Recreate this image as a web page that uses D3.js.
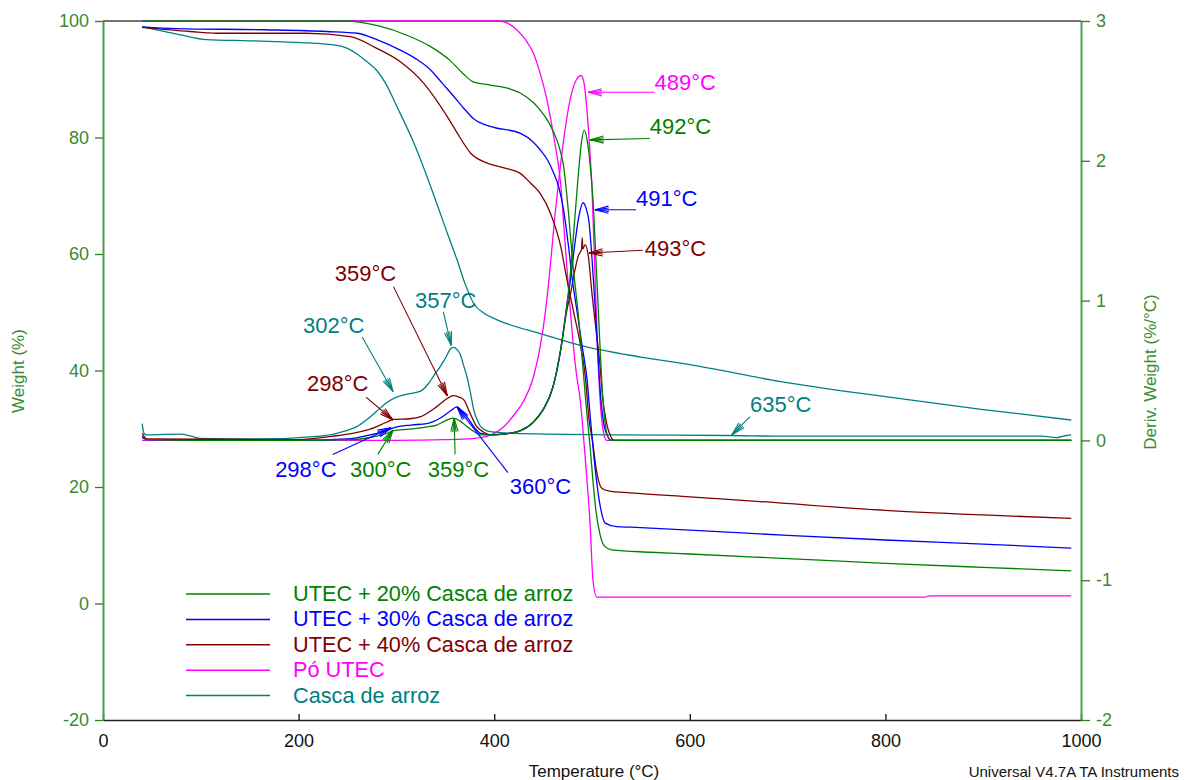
<!DOCTYPE html>
<html>
<head>
<meta charset="utf-8">
<script src="https://cdnjs.cloudflare.com/ajax/libs/d3/7.8.5/d3.min.js"></script>
<style>
  body { margin: 0; background: #fff; }
  text { font-family: Arial, "Liberation Sans", sans-serif; }
</style>
</head>
<body>
<div id="chart"></div>
<script>
// ---- data: [temperature °C, value] ----
// weight (%) - left axis
const weight20 = [[40,100],[250,100],[262,99.8],[283,99.1],[310,97.6],[335,95.6],[355,93.2],[368,91],[378,89.6],[396,89.0],[415,88.4],[427,87.6],[440,86.0],[447,84.7],[455,82.8],[461,80.8],[466,78.6],[471,75],[476,67],[480,59],[486,49.5],[490,42],[494,34],[498,27],[501,21],[504,16],[508,12],[513,9.8],[520,9.2],[560,8.8],[600,8.5],[700,7.7],[800,6.9],[900,6.2],[990,5.6]];
const weight30 = [[40,99.0],[75,98.7],[164,98.5],[229,98.2],[260,97.9],[280,96.8],[304,95.0],[320,93.5],[335,91.6],[347,89.3],[359,87.0],[370,84.8],[379,83.2],[396,81.9],[427,80.7],[440,79.2],[447,77.9],[455,76],[461,73.8],[466,71.5],[471,67.5],[476,61.3],[480,55.5],[485,49.8],[490,44.1],[495,38.4],[498.5,31.5],[503,23.5],[508.5,16.6],[513.5,13.8],[525,13.2],[540,13.1],[600,12.6],[700,11.7],[800,10.9],[900,10.2],[990,9.5]];
const weight40 = [[40,98.9],[89,98.2],[116,97.9],[208,97.9],[253,97.3],[280,95.3],[304,93.0],[328,89.3],[352,83.6],[365,80],[376,77.3],[393,75.6],[410,74.8],[427,73.8],[437,72.2],[447,70.4],[457.5,67],[468,61.3],[474.5,55.5],[481.5,49.8],[488.5,44.1],[493.5,38.4],[497,31.5],[500,28.5],[505,22.4],[510,19.8],[518,19.3],[539,19.0],[600,18.3],[672,17.5],[800,16.0],[900,15.2],[990,14.6]];
const weightPo = [[40,100],[406,100],[415,99.5],[423,98.5],[432,96.8],[440,94.5],[447,91],[454,86.4],[461,80],[468,72],[472,63],[476,54],[480,46],[484,39.5],[488,34.9],[491,29.3],[494.5,22],[498,13.8],[501,4.0],[505,1.1],[510,1.1],[841,1.1],[845,1.3],[990,1.3]];
const weightCasca = [[40,99.0],[60,98.3],[80,97.6],[106,96.8],[150,96.6],[184,96.4],[236,95.9],[250,95.3],[260,94.3],[270,93],[280,91.5],[290,89],[300,85.5],[318,79],[335,71.6],[352,63.6],[362,59],[370,55],[379,51.5],[390,49.8],[403,48.7],[450,46.2],[488,44.3],[550,42.3],[600,41],[693,38.1],[800,35.5],[900,33.3],[990,31.5]];

// derivative weight (%/°C) - right axis
const deriv20 = [[40,0.02],[45,0.005],[100,0.0],[200,0.0],[250,0.005],[263,0.01],[280,0.03],[290,0.05],[297,0.07],[314,0.08],[330,0.095],[341,0.11],[350,0.14],[358,0.16],[365,0.14],[372,0.10],[380,0.06],[386,0.04],[399,0.04],[415,0.05],[427,0.07],[440,0.13],[450,0.22],[460,0.38],[468,0.65],[474,0.95],[478,1.2],[482,1.55],[486,1.9],[489,2.12],[492,2.22],[495,2.15],[498,1.98],[501,1.72],[504,1.3],[507,0.85],[510,0.42],[513,0.15],[516,0.03],[520,0.0],[990,0.0]];
const deriv30 = [[40,0.03],[45,0.005],[200,0.0],[250,0.01],[273,0.04],[290,0.07],[297,0.09],[315,0.11],[331,0.12],[345,0.16],[355,0.21],[362,0.24],[367,0.21],[372,0.17],[380,0.09],[386,0.05],[399,0.04],[415,0.05],[427,0.07],[440,0.13],[450,0.22],[460,0.38],[468,0.65],[474,0.95],[478,1.15],[482,1.38],[486,1.58],[491,1.70],[494,1.66],[497,1.56],[500,1.3],[503,0.98],[506,0.62],[509,0.3],[512,0.12],[516,0.03],[520,0.0],[990,0.0]];
const deriv40 = [[40,0.05],[45,0.01],[200,0.005],[235,0.03],[255,0.05],[273,0.08],[290,0.13],[297,0.15],[314,0.155],[325,0.17],[341,0.24],[352,0.30],[358,0.32],[364,0.31],[369,0.29],[375,0.2],[382,0.10],[389,0.06],[396,0.04],[410,0.045],[427,0.07],[440,0.13],[450,0.22],[460,0.38],[468,0.65],[474,0.92],[478,1.05],[482,1.2],[486,1.32],[489.4,1.37],[490,1.45],[490.6,1.37],[493,1.40],[496,1.33],[500,1.05],[504,0.8],[508,0.55],[511,0.3],[515,0.12],[519,0.03],[523,0.0],[990,0.0]];
const derivPo = [[40,0.0],[300,0.0],[350,0.005],[380,0.015],[395,0.035],[400,0.05],[410,0.1],[420,0.18],[430,0.28],[440,0.45],[447,0.67],[452,0.9],[456,1.15],[462,1.6],[466,1.86],[472,2.2],[478,2.45],[484,2.58],[489,2.61],[492,2.55],[495,2.35],[498,2.05],[500,1.8],[503,1.2],[506,0.6],[509,0.22],[512,0.05],[515,0.0],[990,0.0]];
const derivCasca = [[40,0.12],[42,0.05],[45,0.04],[79,0.045],[90,0.03],[99,0.015],[160,0.01],[222,0.03],[249,0.07],[260,0.1],[270,0.15],[280,0.21],[290,0.27],[300,0.31],[310,0.33],[324,0.35],[332,0.4],[338,0.46],[345,0.53],[351,0.6],[356,0.66],[358.6,0.665],[362,0.65],[365,0.62],[369,0.53],[372,0.46],[376,0.33],[379,0.22],[383,0.14],[386,0.1],[392,0.07],[399,0.06],[420,0.05],[520,0.04],[640,0.035],[700,0.03],[960,0.03],[975,0.02],[985,0.035],[990,0.04]];

const seriesNames = ["UTEC + 20% Casca de arroz", "UTEC + 30% Casca de arroz", "UTEC + 40% Casca de arroz", "Pó UTEC", "Casca de arroz"];
const seriesColors = ["#008000", "#0000ff", "#800000", "#ff00ff", "#008080"];
const weights = [weight20, weight30, weight40, weightPo, weightCasca];
const derivs = [deriv20, deriv30, deriv40, derivPo, derivCasca];

// peak annotations: label, series index, text pos, arrow tail, arrow tip  ([T, deriv])
const peakLabels = ["489°C", "492°C", "491°C", "493°C", "359°C", "357°C", "302°C", "298°C", "298°C", "300°C", "359°C", "360°C", "635°C"];
const peakSeries = [3, 0, 1, 2, 2, 4, 4, 2, 1, 0, 0, 1, 4];
const peakText = [[564,2.51],[559,2.19],[545,1.68],[554,1.32],[237,1.14],[319,0.95],[204.5,0.77],[208.6,0.35],[176,-0.26],[252.6,-0.26],[332,-0.26],[416,-0.38],[661.6,0.20]];
const peakTail = [[564,2.49],[559,2.16],[545,1.65],[552,1.36],[297,1.10],[348,0.92],[265,0.74],[269,0.31],[235,-0.10],[281,-0.10],[360,-0.10],[414,-0.23],[661.6,0.17]];
const peakTip = [[496,2.49],[498,2.15],[503,1.65],[497,1.34],[352,0.32],[356,0.68],[296.5,0.35],[296.5,0.146],[294.5,0.09],[296.5,0.074],[359,0.16],[362,0.24],[643,0.04]];

const xTicks = [0, 200, 400, 600, 800, 1000];
const yTicksLeft = [-20, 0, 20, 40, 60, 80, 100];
const yTicksRight = [-2, -1, 0, 1, 2, 3];

// ---- layout ----
const width = 1186, height = 780;
const axisGreen = "#4a9e4a", labelGreen = "#3a8a33";

const svg = d3.select("#chart").append("svg")
  .attr("width", width).attr("height", height);

const x = d3.scaleLinear().domain([0, 1000]).range([103, 1081]);
const yW = d3.scaleLinear().domain([-20, 100]).range([720, 21]);
const yD = d3.scaleLinear().domain([-2, 3]).range([720, 21]);

// top border
svg.append("line")
  .attr("x1", x(0)).attr("x2", x(1000)).attr("y1", yW(100)).attr("y2", yW(100))
  .attr("stroke", "#444").attr("stroke-width", 1.5);

// bottom axis
const gx = svg.append("g").attr("transform", `translate(0,${yW(-20)})`);
gx.call(d3.axisBottom(x).tickValues(d3.range(0, 1001, 50)).tickSize(-5).tickSizeOuter(0).tickFormat(""));
gx.call(d3.axisBottom(x).tickValues(xTicks).tickSize(-6).tickSizeOuter(0).tickPadding(14).tickFormat(d => d));
gx.selectAll("path, line").attr("stroke", "#222").attr("stroke-width", 1.4);
gx.selectAll("text").attr("font-size", 18).attr("fill", "#111");

// left axis
const gl = svg.append("g").attr("transform", `translate(${x(0)},0)`);
gl.call(d3.axisLeft(yW).tickValues(d3.range(-20, 101, 5)).tickSize(4.5).tickSizeOuter(0).tickFormat(""));
gl.call(d3.axisLeft(yW).tickValues(yTicksLeft).tickSize(8).tickSizeOuter(0).tickPadding(6).tickFormat(d => String(d)));
gl.selectAll("line").attr("stroke", "#2d7d2d").attr("stroke-width", 1.3);
gl.selectAll("path").attr("stroke", axisGreen).attr("stroke-width", 2);
gl.selectAll("text").attr("font-size", 18).attr("fill", labelGreen);

// right axis
const gr = svg.append("g").attr("transform", `translate(${x(1000)},0)`);
gr.call(d3.axisRight(yD).tickValues(d3.range(-2, 3.01, 0.25)).tickSize(5.5).tickSizeOuter(0).tickFormat(""));
gr.call(d3.axisRight(yD).tickValues(yTicksRight).tickSize(9).tickSizeOuter(0).tickPadding(6).tickFormat(d => String(d)));
gr.selectAll("line").attr("stroke", "#2d7d2d").attr("stroke-width", 1.3);
gr.selectAll("path").attr("stroke", axisGreen).attr("stroke-width", 2);
gr.selectAll("text").attr("font-size", 18).attr("fill", labelGreen);

// axis titles
svg.append("text").attr("transform", "translate(24,371) rotate(-90)")
  .attr("text-anchor", "middle").attr("font-size", 17).attr("fill", labelGreen).text("Weight (%)");
svg.append("text").attr("transform", "translate(1156,372) rotate(-90)")
  .attr("text-anchor", "middle").attr("font-size", 17).attr("fill", labelGreen).text("Deriv. Weight (%/°C)");
svg.append("text").attr("x", 594).attr("y", 777)
  .attr("text-anchor", "middle").attr("font-size", 17).attr("fill", "#111").text("Temperature (°C)");
svg.append("text").attr("x", 1179).attr("y", 777)
  .attr("text-anchor", "end").attr("font-size", 15).attr("fill", "#111").text("Universal V4.7A TA Instruments");

// curves
const lineW = d3.line().x(d => x(d[0])).y(d => yW(d[1])).curve(d3.curveMonotoneX);
const lineD = d3.line().x(d => x(d[0])).y(d => yD(d[1])).curve(d3.curveMonotoneX);

const curves = svg.append("g").attr("fill", "none").attr("stroke-width", 1.3);
[4, 3, 2, 1, 0].forEach(i => {
  curves.append("path").attr("d", lineD(derivs[i])).attr("stroke", seriesColors[i]);
  curves.append("path").attr("d", lineW(weights[i])).attr("stroke", seriesColors[i]);
});

// annotations
function arrow(g, tail, tip, color) {
  const x1 = x(tail[0]), y1 = yD(tail[1]), x2 = x(tip[0]), y2 = yD(tip[1]);
  g.append("line").attr("x1", x1).attr("y1", y1).attr("x2", x2).attr("y2", y2).attr("stroke", color);
  const a = Math.atan2(y1 - y2, x1 - x2);
  [-0.26, -0.12, 0.12, 0.26].forEach(o => {
    g.append("line")
      .attr("x1", x2).attr("y1", y2)
      .attr("x2", x2 + 14 * Math.cos(a + o)).attr("y2", y2 + 14 * Math.sin(a + o))
      .attr("stroke", color);
  });
}
const ann = svg.append("g").attr("stroke-width", 1.1);
peakLabels.forEach((label, i) => {
  const color = seriesColors[peakSeries[i]];
  arrow(ann, peakTail[i], peakTip[i], color);
  ann.append("text")
    .attr("x", x(peakText[i][0])).attr("y", yD(peakText[i][1]))
    .attr("font-size", 22).attr("fill", color).text(label);
});

// legend
const legend = svg.append("g");
seriesNames.forEach((name, i) => {
  const ly = 594 + i * 25.4;
  legend.append("line").attr("x1", 186).attr("x2", 270).attr("y1", ly).attr("y2", ly)
    .attr("stroke", seriesColors[i]).attr("stroke-width", 1.5);
  legend.append("text").attr("x", 293).attr("y", ly + 7)
    .attr("font-size", 21.7).attr("fill", seriesColors[i]).text(name);
});
</script>
</body>
</html>
